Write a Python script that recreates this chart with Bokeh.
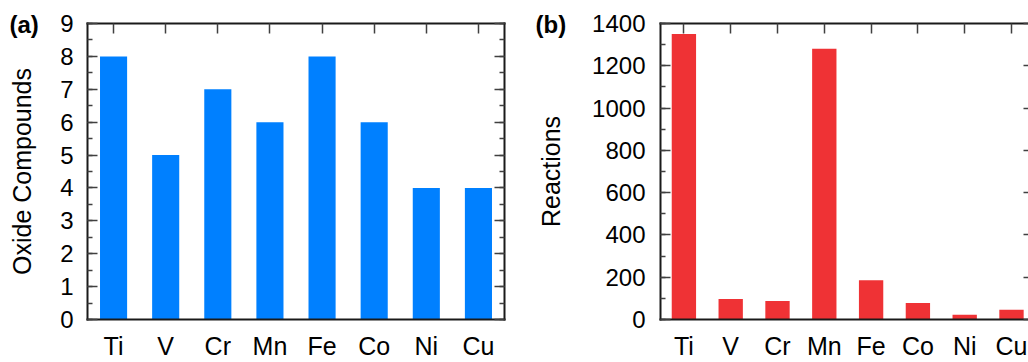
from bokeh.plotting import figure
from bokeh.layouts import row
from bokeh.models import (Range1d, FixedTicker, SingleIntervalTicker, LinearAxis,
                          ColumnDataSource)
from bokeh.core.properties import value
from bokeh.embed import file_html
from bokeh.resources import INLINE

# ---- data ----
elements = ["Ti", "V", "Cr", "Mn", "Fe", "Co", "Ni", "Cu"]
oxide_compounds = [8, 5, 7, 6, 8, 6, 4, 4]
reactions = [1350, 97, 88, 1280, 186, 78, 22, 46]

FONT = "Liberation Sans"
AXC = "#1a1a1a"
TKC = "#404040"

positions = list(range(len(elements)))
overrides = {i: e for i, e in enumerate(elements)}


def hidden_labels(ax):
    ax.major_label_text_font_size = "0px"
    ax.major_label_text_color = None
    ax.major_label_standoff = 0


def make_panel(tag, values, color, ylabel, yint, ymax, width, left_border,
               right_border, xend, tick_standoff, ylab_standoff, tag_dx,
               right_line):
    p = figure(width=width, height=362, output_backend="svg",
               toolbar_location=None,
               x_range=Range1d(-0.5, xend), y_range=Range1d(0, ymax),
               x_axis_location=None, y_axis_location=None,
               min_border_left=left_border, min_border_right=right_border,
               min_border_top=23, min_border_bottom=40)
    p.outline_line_color = None
    p.background_fill_color = "white"
    p.border_fill_color = "white"
    for g in p.grid:
        g.visible = False

    src = ColumnDataSource(dict(x=positions, top=values, name=elements))
    p.vbar(x="x", top="top", bottom=0, width=0.52, source=src,
           fill_color=color, line_color=None)

    # bottom axis: category labels
    bottom = LinearAxis(ticker=FixedTicker(ticks=positions),
                        major_label_overrides=overrides)
    bottom.major_tick_in = 0
    bottom.major_tick_out = 0
    bottom.minor_tick_in = 0
    bottom.minor_tick_out = 0
    bottom.major_label_standoff = 12
    bottom.major_label_text_font = FONT
    bottom.major_label_text_font_size = "25px"
    bottom.major_label_text_color = "black"
    bottom.axis_line_color = AXC
    bottom.axis_line_width = 2
    bottom.axis_line_cap = "square"
    p.add_layout(bottom, "below")

    # top axis: ticks only
    top = LinearAxis(ticker=FixedTicker(ticks=positions))
    top.major_tick_in = 10
    top.major_tick_out = 0
    top.major_tick_line_color = TKC
    top.major_tick_line_width = 1.5
    hidden_labels(top)
    top.axis_line_color = AXC
    top.axis_line_width = 2
    top.axis_line_cap = "square"
    p.add_layout(top, "above")

    # left axis
    left = LinearAxis(ticker=SingleIntervalTicker(interval=yint, num_minor_ticks=2),
                      axis_label=ylabel)
    left.major_tick_in = 10
    left.major_tick_out = 0
    left.minor_tick_in = 5
    left.minor_tick_out = 0
    left.major_tick_line_color = TKC
    left.minor_tick_line_color = TKC
    left.major_tick_line_width = 1.5
    left.minor_tick_line_width = 1.5
    left.major_label_standoff = tick_standoff
    left.major_label_text_font = FONT
    left.major_label_text_font_size = "24px"
    left.major_label_text_color = "black"
    left.axis_label_text_font = FONT
    left.axis_label_text_font_size = "25px"
    left.axis_label_text_font_style = "normal"
    left.axis_label_text_color = "black"
    left.axis_label_standoff = ylab_standoff
    left.axis_line_color = AXC
    left.axis_line_width = 2
    left.axis_line_cap = "square"
    p.add_layout(left, "left")

    # right axis: ticks only
    right = LinearAxis(ticker=SingleIntervalTicker(interval=yint, num_minor_ticks=2))
    right.major_tick_out = 0
    right.minor_tick_out = 0
    right.major_tick_line_color = TKC
    right.minor_tick_line_color = TKC
    right.major_tick_line_width = 1.5
    right.minor_tick_line_width = 1.5
    hidden_labels(right)
    if right_line:
        right.major_tick_in = 10
        right.minor_tick_in = 5
        right.axis_line_color = AXC
        right.axis_line_width = 2
        right.axis_line_cap = "square"
    else:
        right.major_tick_in = 5
        right.minor_tick_in = 0
        right.axis_line_color = None
    p.add_layout(right, "right")

    # panel tag, anchored to the frame's top-left corner, drawn unclipped
    tag_src = ColumnDataSource(dict(x=[p.x_range.start], y=[p.y_range.end], t=[tag]))
    p.text(x="x", y="y", text="t", source=tag_src,
           x_offset=tag_dx, y_offset=1,
           text_font=value(FONT), text_font_size=value("24px"),
           text_font_style=value("bold"), text_color="black",
           text_baseline="middle", text_align="left", level="overlay")
    return p


pa = make_panel("(a)", oxide_compounds, "#0080FF", "Oxide Compounds", 1, 9,
                width=523, left_border=87, right_border=19, xend=7.5,
                tick_standoff=14, ylab_standoff=21, tag_dx=-78, right_line=True)

pb = make_panel("(b)", reactions, "#EF3235", "Reactions", 200, 1400,
                width=505, left_border=137, right_border=0,
                xend=-0.5 + 368 / 46.8,
                tick_standoff=15, ylab_standoff=24, tag_dx=-125, right_line=False)

layout = row(pa, pb)
open("out.html", "w").write(file_html(layout, INLINE))
